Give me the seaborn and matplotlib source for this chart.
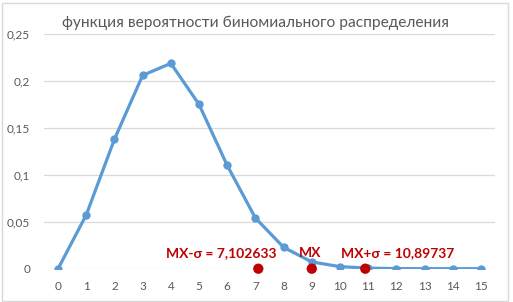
import matplotlib
matplotlib.use("Agg")
import matplotlib.pyplot as plt
import seaborn as sns
import pandas as pd
from matplotlib.patches import Rectangle

# ---- data ----
k_values = list(range(16))
probabilities = [0.0, 0.0574, 0.138, 0.206, 0.2187, 0.175, 0.110, 0.054,
                 0.0228, 0.0072, 0.0022, 0.0006, 0.0001, 0.0, 0.0, 0.0]
stat_x = [7.102633, 9.0, 10.89737]
stat_y = [0.0, 0.0, 0.0]
stat_labels = ["MX-σ = 7,102633", "MX", "MX+σ = 10,89737"]
label_x = [5.8, 8.93, 12.05]
y_ticks = [0, 0.05, 0.1, 0.15, 0.2, 0.25]
y_tick_labels = ["0", "0,05", "0,1", "0,15", "0,2", "0,25"]
title = "функция вероятности биномиального распределения"

sns.set_theme(style="white")
plt.rcParams['font.family'] = ['Lato', 'DejaVu Sans']

fig = plt.figure(figsize=(5.13, 3.02), dpi=100)
ax = fig.add_axes([44/513, 1-268.7/302, (495-44)/513, (268.7-34)/302])

df = pd.DataFrame({"k": k_values, "p": probabilities})
sns.lineplot(data=df, x="k", y="p", ax=ax, color="#5B9BD5", linewidth=2.3,
             marker="o", markersize=6, markeredgewidth=0, zorder=3)

sdf = pd.DataFrame({"x": stat_x, "y": stat_y})
sns.scatterplot(data=sdf, x="x", y="y", ax=ax, color="#C00000", s=55,
                edgecolor="none", zorder=4, clip_on=False)

for lx, lab in zip(label_x, stat_labels):
    ax.annotate(lab, xy=(lx, 0), xytext=(0, 11), textcoords="offset points",
                ha="center", va="center", color="#C00000", fontsize=10,
                fontweight="bold")

ax.set_xlim(-0.5, 15.5)
ax.set_ylim(0, 0.25)
ax.set_xticks(k_values)
ax.set_xticklabels([str(k) for k in k_values])
ax.set_yticks(y_ticks)
ax.set_yticklabels(y_tick_labels)
ax.tick_params(axis="both", length=0, labelsize=8.5, colors="#595959")
ax.tick_params(axis="y", pad=10)
ax.tick_params(axis="x", pad=9)
ax.set_xlabel("")
ax.set_ylabel("")
ax.grid(axis="y", color="#D9D9D9", linewidth=0.9)
ax.grid(axis="x", visible=False)
ax.set_axisbelow(True)
for s in ax.spines.values():
    s.set_visible(False)

fig.text(62/513, 1-23/302, title, ha="left", va="center", color="#595959",
         fontsize=11.2)

fig.patches.append(Rectangle((2/513, 1/302), 506/513, 298/302,
                             transform=fig.transFigure, fill=False,
                             edgecolor="#D9D9D9", linewidth=1))

fig.savefig("out.png", dpi=100)
